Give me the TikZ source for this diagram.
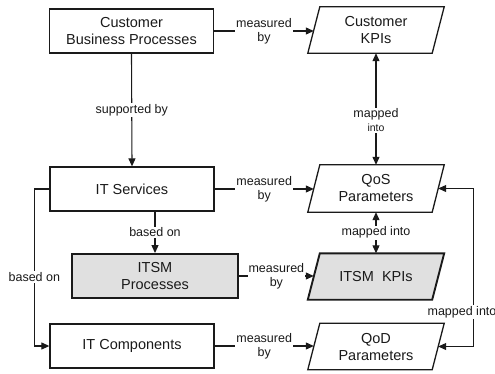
\documentclass[tikz,border=0pt]{standalone}
\usepackage{fontspec}
\setmainfont{Liberation Sans}
\usetikzlibrary{arrows.meta,backgrounds,calc}
\definecolor{boxgray}{HTML}{E0E0E0}
\definecolor{ink}{HTML}{1A1A1A}
\tikzset{
  box/.style={draw=ink, line width=1.3pt, minimum width=164pt, minimum height=44pt,
    align=center, font=\fontsize{14.5}{17}\selectfont, text=ink, inner sep=0pt},
  grayfill/.style={fill=boxgray, line width=1.9pt},
  kpi/.style={minimum width=124pt, minimum height=46pt, align=center,
    font=\fontsize{14.5}{17}\selectfont, text=ink, inner sep=0pt},
  lbl/.style={fill=white, inner sep=1pt, align=center,
    font=\fontsize{12.5}{14}\selectfont, text=ink},
  conn/.style={draw=ink, line width=1.1pt},
  arr/.style={conn, -{Triangle[length=8pt,width=7pt]}},
  arrboth/.style={conn, {Triangle[length=8pt,width=7pt]}-{Triangle[length=8pt,width=7pt]}},
}
\newcommand{\paragram}[2]{%
  \draw[draw=ink, line width=1.3pt, #2]
    ($(#1.south west)+(-6pt,0)$) -- ($(#1.north west)+(6pt,0)$) --
    ($(#1.north east)+(6pt,0)$) -- ($(#1.south east)+(-6pt,0)$) -- cycle;}
\begin{document}
\begin{tikzpicture}[x=1pt,y=-1pt]
\useasboundingbox (0,0) rectangle (495,373);
% rectangular boxes
\node[box] (cbp) at (131.5,31) {Customer\\Business Processes};
\node[box] (its) at (132,189) {IT Services};
\node[box,grayfill,minimum width=166pt] (itsmp) at (155,276) {ITSM\\Processes};
\node[box] (itc) at (132,346) {IT Components};
% parallelogram nodes
\node[kpi] (ckpi) at (376,30) {Customer\\KPIs};
\node[kpi,minimum height=47pt] (qos) at (376,188.5) {QoS\\Parameters};
\node[kpi] (itsmk) at (376,276.5) {ITSM\ \ KPIs};
\node[kpi] (qod) at (376,346.5) {QoD\\Parameters};
\begin{scope}[on background layer]
  \paragram{ckpi}{fill=white}
  \paragram{qos}{fill=white}
  \paragram{itsmk}{fill=boxgray, line width=1.9pt}
  \paragram{qod}{fill=white}
\end{scope}
% connectors
\draw[arr] (cbp.south) -- node[lbl] {supported by} (its.north);
\draw[arr] (cbp.east) -- node[lbl] {measured\\by} (cbp.east -| ckpi.west);
\draw[arr] (its.east) -- node[lbl] {measured\\by} (its.east -| qos.west);
\draw[arr] (its.south -| itsmp.north) -- node[lbl] {based on} (itsmp.north);
\draw[arr] (its.west) -- ++(-15,0) |- node[lbl,pos=0.28] {based on} (itc.west);
\draw[arr] (itsmp.east) -- node[lbl] {measured\\by} (itsmp.east -| itsmk.west);
\draw[arr] (itc.east) -- node[lbl] {measured\\by} (itc.east -| qod.west);
\draw[arrboth] (ckpi.south) -- node[lbl,pos=0.6] {mapped\\{\fontsize{10.5}{12}\selectfont into}} (qos.north);
\draw[arrboth] (qos.south) -- node[lbl] {mapped into} (itsmk.north);
\draw[arrboth] (qod.east) -- ++(35,0) coordinate (qr) |- (qos.east);
\node[lbl] (mi) at (462,312) {mapped into};
\end{tikzpicture}
\end{document}
